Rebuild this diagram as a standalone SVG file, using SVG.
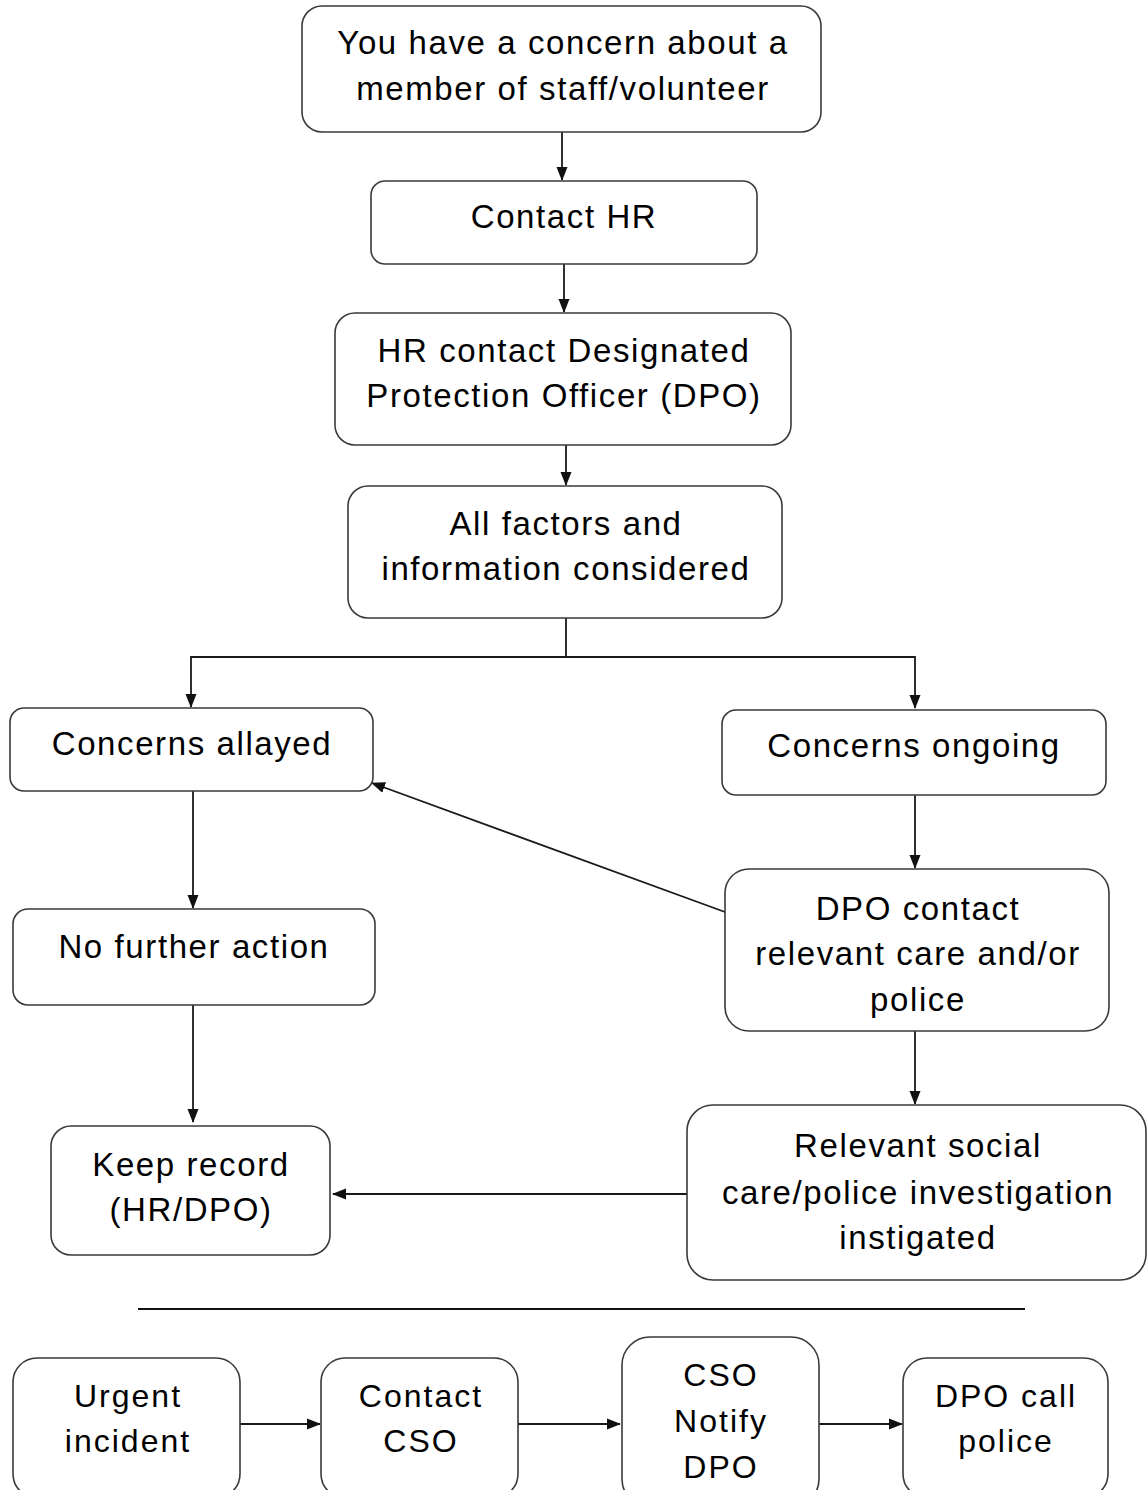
<svg xmlns="http://www.w3.org/2000/svg" width="1147" height="1490" viewBox="0 0 1147 1490">
<style>
.box{fill:#fff;stroke:#3a3a3a;stroke-width:1.6}
.t{font-family:"Liberation Sans",Arial,sans-serif;font-size:33px;letter-spacing:1.6px;fill:#000;text-anchor:middle}
.b{font-family:"Liberation Sans",Arial,sans-serif;font-size:32px;letter-spacing:2px;fill:#000;text-anchor:middle}
.c{fill:none;stroke:#1a1a1a;stroke-width:1.8}
</style>
<defs>
<marker id="ah" markerUnits="userSpaceOnUse" markerWidth="14" markerHeight="12" refX="13" refY="6" orient="auto">
<path d="M0,0.5 L14,6 L0,11.5 z" fill="#111"/>
</marker>
</defs>
<g id="connectors">
<line class="c" x1="562" y1="132" x2="562" y2="180" marker-end="url(#ah)"/>
<line class="c" x1="564" y1="264" x2="564" y2="312" marker-end="url(#ah)"/>
<line class="c" x1="566" y1="445" x2="566" y2="485" marker-end="url(#ah)"/>
<polyline class="c" points="566,618 566,657 191,657 191,707" marker-end="url(#ah)"/>
<polyline class="c" points="566,657 915,657 915,708" marker-end="url(#ah)"/>
<line class="c" x1="193" y1="791" x2="193" y2="908" marker-end="url(#ah)"/>
<line class="c" x1="193" y1="1005" x2="193" y2="1122" marker-end="url(#ah)"/>
<line class="c" x1="915" y1="795" x2="915" y2="868" marker-end="url(#ah)"/>
<line class="c" x1="725" y1="912" x2="372" y2="783" marker-end="url(#ah)"/>
<line class="c" x1="915" y1="1031" x2="915" y2="1104" marker-end="url(#ah)"/>
<line class="c" x1="687" y1="1194" x2="333" y2="1194" marker-end="url(#ah)"/>
<line class="c" x1="240" y1="1424" x2="320" y2="1424" marker-end="url(#ah)"/>
<line class="c" x1="518" y1="1424" x2="620" y2="1424" marker-end="url(#ah)"/>
<line class="c" x1="819" y1="1424" x2="902" y2="1424" marker-end="url(#ah)"/>
</g>
<line x1="138" y1="1309" x2="1025" y2="1309" stroke="#111" stroke-width="2"/>
<g id="n1"><rect class="box" x="302" y="6" width="519" height="126" rx="20"/>
<text class="t" x="563" y="54">You have a concern about a</text><text class="t" x="563" y="100">member of staff/volunteer</text></g>
<g id="n2"><rect class="box" x="371" y="181" width="386" height="83" rx="14"/>
<text class="t" x="564" y="228">Contact HR</text></g>
<g id="n3"><rect class="box" x="335" y="313" width="456" height="132" rx="20"/>
<text class="t" x="564" y="362">HR contact Designated</text><text class="t" x="564" y="407">Protection Officer (DPO)</text></g>
<g id="n4"><rect class="box" x="348" y="486" width="434" height="132" rx="20"/>
<text class="t" x="566" y="535">All factors and</text><text class="t" x="566" y="580">information considered</text></g>
<g id="n5"><rect class="box" x="10" y="708" width="363" height="83" rx="14"/>
<text class="t" x="192" y="755">Concerns allayed</text></g>
<g id="n6"><rect class="box" x="722" y="710" width="384" height="85" rx="14"/>
<text class="t" x="914" y="757">Concerns ongoing</text></g>
<g id="n7"><rect class="box" x="13" y="909" width="362" height="96" rx="15"/>
<text class="t" x="194" y="958">No further action</text></g>
<g id="n8"><rect class="box" x="725" y="869" width="384" height="162" rx="24"/>
<text class="t" x="918" y="920">DPO contact</text><text class="t" x="918" y="965">relevant care and/or</text><text class="t" x="918" y="1011">police</text></g>
<g id="n9"><rect class="box" x="51" y="1126" width="279" height="129" rx="20"/>
<text class="t" x="191" y="1176">Keep record</text><text class="t" x="191" y="1221">(HR/DPO)</text></g>
<g id="n10"><rect class="box" x="687" y="1105" width="459" height="175" rx="26"/>
<text class="t" x="918" y="1157">Relevant social</text><text class="t" x="918" y="1204">care/police investigation</text><text class="t" x="918" y="1249">instigated</text></g>
<g id="n11"><rect class="box" x="13" y="1358" width="227" height="140" rx="24"/>
<text class="b" x="128" y="1407">Urgent</text><text class="b" x="128" y="1452">incident</text></g>
<g id="n12"><rect class="box" x="321" y="1358" width="197" height="140" rx="24"/>
<text class="b" x="421" y="1407">Contact</text><text class="b" x="421" y="1452">CSO</text></g>
<g id="n13"><rect class="box" x="622" y="1337" width="197" height="170" rx="28"/>
<text class="b" x="721" y="1386">CSO</text><text class="b" x="721" y="1432">Notify</text><text class="b" x="721" y="1478">DPO</text></g>
<g id="n14"><rect class="box" x="903" y="1358" width="205" height="140" rx="24"/>
<text class="b" x="1006" y="1407">DPO call</text><text class="b" x="1006" y="1452">police</text></g>
</svg>
